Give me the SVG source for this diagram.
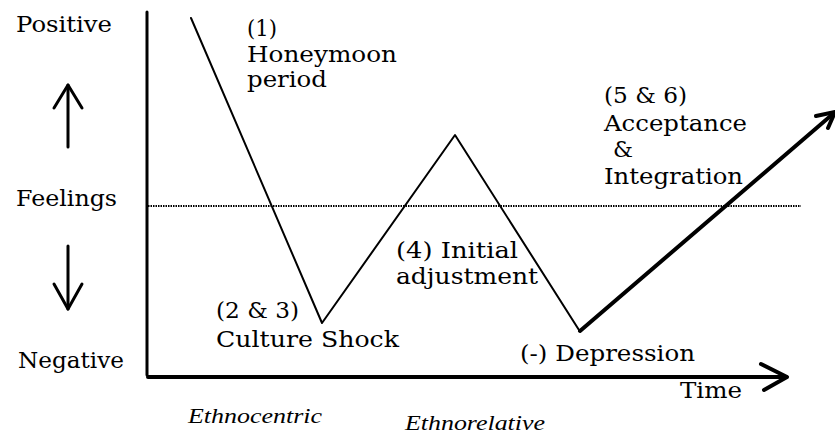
<svg xmlns="http://www.w3.org/2000/svg" width="835" height="434" viewBox="0 0 835 434">
<style>
.t{font-family:"DejaVu Serif","Liberation Serif",serif;font-size:23px;fill:#000}
.i{font-family:"Liberation Serif",serif;font-style:italic;font-size:21px;fill:#000}
.ln{stroke:#000;fill:none;stroke-linecap:round;stroke-linejoin:round}
</style>
<rect width="835" height="434" fill="#fff"/>
<g id="axes">
<line class="ln" x1="147" y1="12" x2="147" y2="375" stroke-width="3"/>
<line class="ln" x1="148" y1="377" x2="786" y2="377" stroke-width="4"/>
<polyline class="ln" points="761,364 787,377 764,390" stroke-width="4"/>
<line x1="148" y1="206" x2="801" y2="206" stroke="#000" stroke-width="2" stroke-dasharray="1.5,1"/>
</g>
<g id="side-arrows">
<line class="ln" x1="68" y1="147" x2="68" y2="85" stroke-width="3"/>
<polyline class="ln" points="54,108 68,85 82,108" stroke-width="3"/>
<line class="ln" x1="68" y1="246" x2="68" y2="309" stroke-width="3"/>
<polyline class="ln" points="54,284 68,309 82,284" stroke-width="3"/>
</g>
<g id="connectors">
<polyline class="ln" points="191,18 322,323 455,135 579,330" stroke-width="2"/>
<line class="ln" x1="580" y1="331" x2="834" y2="113" stroke-width="4"/>
<polyline class="ln" points="816,116 835,112 828,128" stroke-width="4"/>
</g>
<g id="labels" lengthAdjust="spacingAndGlyphs">
<text class="t" x="16" y="32" textLength="96" lengthAdjust="spacingAndGlyphs">Positive</text>
<text class="t" x="16" y="206" textLength="101" lengthAdjust="spacingAndGlyphs">Feelings</text>
<text class="t" x="18" y="368" textLength="106" lengthAdjust="spacingAndGlyphs">Negative</text>
<text class="t" x="247" y="36" textLength="30" lengthAdjust="spacingAndGlyphs">(1)</text>
<text class="t" x="247" y="62" textLength="150" lengthAdjust="spacingAndGlyphs">Honeymoon</text>
<text class="t" x="247" y="87" textLength="80" lengthAdjust="spacingAndGlyphs">period</text>
<text class="t" x="604" y="103" textLength="83" lengthAdjust="spacingAndGlyphs">(5 &amp; 6)</text>
<text class="t" x="604" y="131" textLength="143" lengthAdjust="spacingAndGlyphs">Acceptance</text>
<text class="t" x="613" y="157" textLength="20" lengthAdjust="spacingAndGlyphs">&amp;</text>
<text class="t" x="604" y="184" textLength="139" lengthAdjust="spacingAndGlyphs">Integration</text>
<text class="t" x="396" y="258" textLength="122" lengthAdjust="spacingAndGlyphs">(4) Initial</text>
<text class="t" x="396" y="284" textLength="142" lengthAdjust="spacingAndGlyphs">adjustment</text>
<text class="t" x="216" y="318" textLength="83" lengthAdjust="spacingAndGlyphs">(2 &amp; 3)</text>
<text class="t" x="216" y="347" textLength="183" lengthAdjust="spacingAndGlyphs">Culture Shock</text>
<text class="t" x="520" y="361" textLength="175" lengthAdjust="spacingAndGlyphs">(-) Depression</text>
<text class="t" x="680" y="398" textLength="62" lengthAdjust="spacingAndGlyphs">Time</text>
<text class="i" x="188" y="423" textLength="134" lengthAdjust="spacingAndGlyphs">Ethnocentric</text>
<text class="i" x="405" y="430" textLength="140" lengthAdjust="spacingAndGlyphs">Ethnorelative</text>
</g>
</svg>
